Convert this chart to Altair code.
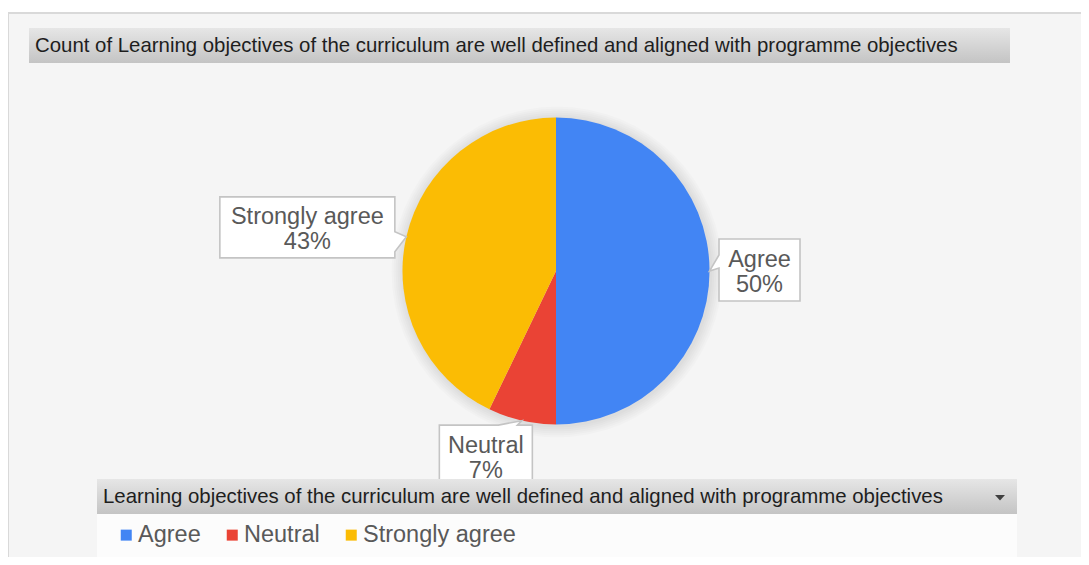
import math
import altair as alt
import pandas as pd

# ---------------- data ----------------
categories = ["Agree", "Neutral", "Strongly agree"]
counts = [7, 1, 6]
colors = ["#4285F4", "#EA4335", "#FBBC04"]
title_text = "Count of Learning objectives of the curriculum are well defined and aligned with programme objectives"
field_text = "Learning objectives of the curriculum are well defined and aligned with programme objectives"

# ---------------- layout / style ----------------
W, H = 1073, 549
M = 8  # page margin


def px(v):
    return v - M


CX, CY, R = px(556), px(271), 153.5
LABEL_FONT = "Liberation Sans"
HEAD_FONT = "Liberation Sans"
LABEL_SIZE = 23.5
HEAD_SIZE = 20.4

# callout boxes: offset of the box centre from the slice's outer mid-point,
# and the box outline (box-local pixels, pointer tip = -offset)
callout = {
    "Agree": {"off": (50, -1),
              "path": "M-40.5,-31H40.5V31H-40.5V-2L-50,1L-40.5,-15Z"},
    "Neutral": {"off": (-36, 35),
                "path": "M-46.5,-30.5H12.5L36,-35L31.5,-30.5H46.5V30.5H-46.5Z"},
    "Strongly agree": {"off": (-99, -9.5),
                       "path": "M-87.5,-30.5H87.5V4.5L99,9.5L87.5,24.5V30.5H-87.5Z"},
}

# ---------------- derived table ----------------
total = sum(counts)
rows = []
cum = 0
for i, (c, n) in enumerate(zip(categories, counts)):
    mid = (cum + n / 2) / total * 2 * math.pi
    cum += n
    ex = CX + R * math.sin(mid)
    ey = CY - R * math.cos(mid)
    ox, oy = callout[c]["off"]
    rows.append({
        "cat": c, "count": n, "ord": i,
        "label": f"{c}\n{round(n / total * 100)}%",
        "bx": ex + ox, "by": ey + oy,
        "path": callout[c]["path"],
    })
df = pd.DataFrame(rows)
one = pd.DataFrame({"k": [0]})

grad = alt.LinearGradient(
    gradient="linear",
    stops=[alt.GradientStop(color="#e6e6e6", offset=0),
           alt.GradientStop(color="#c4c4c4", offset=1)],
    x1=0, x2=0, y1=0, y2=1,
)


def box(x0, x1, y0, y1, **kw):
    return alt.Chart(one).mark_rect(**kw).encode(
        x=alt.value(px(x0)), x2=alt.value(px(x1)),
        y=alt.value(px(y0)), y2=alt.value(px(y1)))


frame = box(8, 1100, 13, 600, color="#f5f5f5", stroke="#d9d9d9", strokeWidth=2)
title_bar = box(29, 1010, 28, 63, color=grad)
title = alt.Chart(one).mark_text(
    text=title_text, align="left", baseline="middle", font=HEAD_FONT,
    fontSize=HEAD_SIZE, color="#1e1e1e").encode(x=alt.value(px(35)), y=alt.value(px(46)))

shadows = []
for k in range(1, 7):
    shadows.append(alt.Chart(one).mark_arc(
        theta=0, theta2=2 * math.pi, radius=R + 2 * k, color="#000000",
        opacity=0.017).encode(x=alt.value(CX + 1), y=alt.value(CY + 1)))

pie = alt.Chart(df).mark_arc(radius=R).encode(
    theta=alt.Theta("count:Q", stack=True),
    color=alt.Color("cat:N", scale=alt.Scale(domain=categories, range=colors),
                    legend=alt.Legend(
                        orient="none", legendX=106.5, legendY=515,
                        direction="horizontal", title=None,
                        symbolType="square", symbolSize=121,
                        symbolStrokeWidth=0, labelFont=LABEL_FONT,
                        labelFontSize=LABEL_SIZE, labelColor="#595959",
                        labelOffset=0, columnPadding=19, padding=0)),
    order=alt.Order("ord:Q"),
    x=alt.value(CX), y=alt.value(CY),
)

boxes = alt.Chart(df).mark_point(
    size=4, filled=True, fill="white", stroke="#c4c4c4", strokeWidth=1.6,
    opacity=1).encode(
    x=alt.X("bx:Q", scale=None, axis=None),
    y=alt.Y("by:Q", scale=None, axis=None),
    shape=alt.Shape("path:N", scale=None, legend=None),
)

labels = alt.Chart(df).mark_text(
    font=LABEL_FONT, fontSize=LABEL_SIZE, color="#595959", lineBreak="\n",
    lineHeight=25, align="center", baseline="middle", dy=-10).encode(
    x=alt.X("bx:Q", scale=None, axis=None),
    y=alt.Y("by:Q", scale=None, axis=None),
    text="label:N",
)

field_bar = box(97, 1017, 479, 514, color=grad)
legend_bg = box(97, 1017, 514, 558, color="#fcfcfc")
field = alt.Chart(one).mark_text(
    text=field_text, align="left", baseline="middle", font=HEAD_FONT,
    fontSize=HEAD_SIZE, color="#1e1e1e").encode(x=alt.value(px(103)), y=alt.value(px(497)))
arrow = alt.Chart(one).mark_point(
    shape="M-5,-2.5L5,-2.5L0,3Z", filled=True, color="#404040", size=4,
    opacity=1).encode(x=alt.value(px(1000)), y=alt.value(px(497.5)))

chart = alt.layer(
    frame, title_bar, title, *shadows, pie, boxes, labels,
    field_bar, legend_bg, field, arrow,
).properties(
    width=W, height=H, padding=0,
    autosize=alt.AutoSizeParams(type="none"),
    background="white",
).configure_view(strokeWidth=0)

chart.save("out.html", embed_options={"renderer": "svg", "actions": False})
